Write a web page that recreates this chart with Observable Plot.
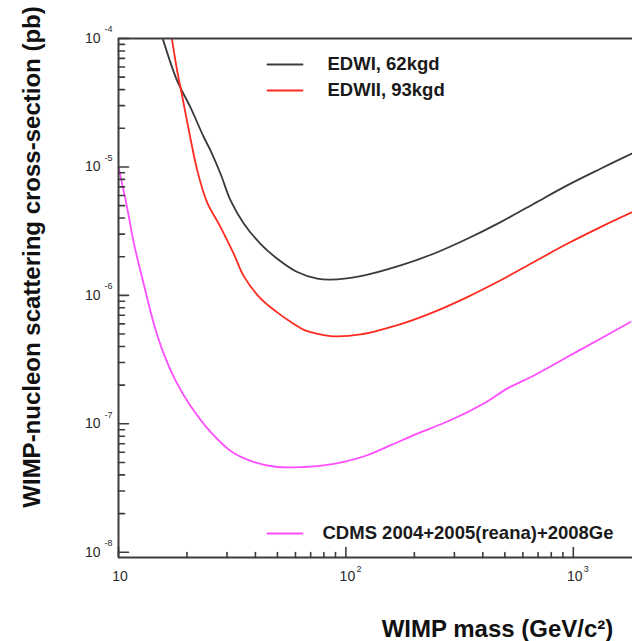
<!DOCTYPE html>
<html><head><meta charset="utf-8">
<script src="https://cdn.jsdelivr.net/npm/d3@7"></script>
<script src="https://cdn.jsdelivr.net/npm/@observablehq/plot@0.6"></script>
<style>html,body{margin:0;padding:0;background:#fff;overflow:hidden}</style>
</head><body><div id="chart"></div>
<script>
// ---- data (WIMP mass in GeV/c^2, cross-section in pb) ----
const massEDWI  = [15.7, 18.1, 20.7, 23.7, 25.4, 28.1, 31.1, 35.6, 42.1, 49.9, 61.1, 74.8, 85.6, 116, 174, 243, 342, 479, 671, 940, 1317, 1821];
const sigmaEDWI = [9.8e-5, 4.7e-5, 2.92e-5, 1.71e-5, 1.34e-5, 8.85e-6, 5.48e-6, 3.61e-6, 2.52e-6, 1.93e-6, 1.52e-6, 1.35e-6, 1.325e-6, 1.41e-6, 1.71e-6, 2.11e-6, 2.76e-6, 3.72e-6, 5.17e-6, 7.18e-6, 9.68e-6, 1.28e-5];

const massEDWII  = [17.2, 18.1, 19.1, 20.4, 22.2, 24.5, 28.1, 32.1, 35.6, 42.1, 49.9, 57.1, 65.3, 69.9, 85.6, 116, 180, 243, 342, 479, 671, 940, 1317, 1821];
const sigmaEDWII = [9.8e-5, 5.64e-5, 3.49e-5, 1.92e-5, 9.39e-6, 5.32e-6, 3.40e-6, 2.11e-6, 1.405e-6, 9.48e-7, 7.37e-7, 6.22e-7, 5.39e-7, 5.18e-7, 4.82e-7, 4.97e-7, 6.09e-7, 7.41e-7, 9.70e-7, 1.31e-6, 1.82e-6, 2.52e-6, 3.40e-6, 4.45e-6];

const massCDMS  = [10, 10.9, 11.7, 12.9, 14.3, 15.8, 17.8, 20.4, 25.4, 31.6, 39.4, 49.9, 65.3, 80.0, 97.9, 124, 157, 206, 288, 404, 512, 671, 940, 1317, 1784];
const sigmaCDMS = [1.0e-5, 4.87e-6, 2.52e-6, 1.23e-6, 6.02e-7, 3.52e-7, 2.18e-7, 1.44e-7, 8.64e-8, 6.03e-8, 5.04e-8, 4.61e-8, 4.61e-8, 4.75e-8, 5.06e-8, 5.69e-8, 6.80e-8, 8.39e-8, 1.065e-7, 1.44e-7, 1.88e-7, 2.38e-7, 3.31e-7, 4.60e-7, 6.20e-7];

const seriesNames  = ["EDWI, 62kgd", "EDWII, 93kgd", "CDMS 2004+2005(reana)+2008Ge"];
const seriesColors = ["#3a3a3a", "#ff2a1f", "#ff4dff"];

const xDomain = [10, 1821];
const yDomain = [9.1e-9, 1e-4];
const xMajor = [10, 100, 1000];
const xMajorExp = ["", "2", "3"];
const yMajor = [1e-8, 1e-7, 1e-6, 1e-5, 1e-4];
const yMajorExp = ["-8", "-7", "-6", "-5", "-4"];
const minorSteps = [2, 3, 4, 5, 6, 7, 8, 9];
const xTitle = "WIMP mass (GeV/c²)";
const yTitle = "WIMP-nucleon scattering cross-section (pb)";

// ---- build ----
const rows = [];
[[massEDWI, sigmaEDWI], [massEDWII, sigmaEDWII], [massCDMS, sigmaCDMS]].forEach(([m, s], k) => {
  m.forEach((v, i) => rows.push({series: seriesNames[k], mass: v, sigma: s[i]}));
});
const xMinor = xMajor.flatMap(p => minorSteps.map(k => k * p)).filter(v => v < xDomain[1]);
const yMinor = yMajor.slice(0, -1).flatMap(p => minorSteps.map(k => k * p));

const tickShape = {draw(ctx, l) { ctx.moveTo(0, 0); ctx.lineTo(0, -l); }};
const hShape = {draw(ctx, l) { ctx.moveTo(0, 0); ctx.lineTo(l, 0); }};
const axisColor = "#3c3c3c";
const labelColor = "#2a2a2a";
const legendPos = [
  {frameAnchor: "top-left", dy: 26, textDx: 209},
  {frameAnchor: "top-left", dy: 52, textDx: 209},
  {frameAnchor: "bottom-left", dy: -24, textDx: 204}
];

const legendMarks = seriesNames.flatMap((name, i) => [
  Plot.vector([name], {frameAnchor: legendPos[i].frameAnchor, dx: 149, dy: legendPos[i].dy, length: 35, shape: hShape, anchor: "start", stroke: seriesColors[i], strokeWidth: 1.8}),
  Plot.text([name], {frameAnchor: legendPos[i].frameAnchor, dx: legendPos[i].textDx, dy: legendPos[i].dy, text: d => d, textAnchor: "start", lineAnchor: "middle", fontSize: 18.5, fontWeight: "bold", fill: "#1a1a1a"})
]);

const chart = Plot.plot({
  width: 632,
  height: 641,
  marginLeft: 118,
  marginRight: 0,
  marginTop: 38,
  marginBottom: 84,
  style: {fontFamily: "'Liberation Sans', Arial, Helvetica, sans-serif", background: "#fff"},
  x: {type: "log", domain: xDomain, axis: null},
  y: {type: "log", domain: yDomain, axis: null},
  color: {domain: seriesNames, range: seriesColors},
  marks: [
    Plot.line(rows, {x: "mass", y: "sigma", z: "series", stroke: "series", strokeWidth: 1.8, curve: "catmull-rom", clip: true}),
    // frame lines
    Plot.ruleX([xDomain[0]], {stroke: axisColor, strokeWidth: 2}),
    Plot.ruleY([yDomain[0], yDomain[1]], {stroke: axisColor, strokeWidth: 2}),
    // inward ticks
    Plot.vector(yMajor, {y: d => d, frameAnchor: "left", length: 10, rotate: 90, shape: tickShape, anchor: "start", stroke: axisColor, strokeWidth: 1.6}),
    Plot.vector(yMinor, {y: d => d, frameAnchor: "left", length: 6, rotate: 90, shape: tickShape, anchor: "start", stroke: axisColor, strokeWidth: 1.6}),
    Plot.vector(xMajor, {x: d => d, frameAnchor: "bottom", length: 10, shape: tickShape, anchor: "start", stroke: axisColor, strokeWidth: 1.6}),
    Plot.vector(xMinor, {x: d => d, frameAnchor: "bottom", length: 5, shape: tickShape, anchor: "start", stroke: axisColor, strokeWidth: 1.6}),
    // tick labels
    Plot.text(yMajor, {y: d => d, frameAnchor: "left", text: () => "10", textAnchor: "end", lineAnchor: "middle", dx: -18, fontSize: 14, fill: labelColor}),
    Plot.text(yMajor, {y: d => d, frameAnchor: "left", text: (d, i) => yMajorExp[i], textAnchor: "start", lineAnchor: "middle", dx: -14, dy: -9, fontSize: 9, fill: labelColor}),
    Plot.text(xMajor, {x: d => d, frameAnchor: "bottom", text: () => "10", textAnchor: "middle", lineAnchor: "middle", dx: 1.5, dy: 19, fontSize: 14, fill: labelColor}),
    Plot.text(xMajor, {x: d => d, frameAnchor: "bottom", text: (d, i) => xMajorExp[i], textAnchor: "start", lineAnchor: "middle", dx: 10.5, dy: 12, fontSize: 9, fill: labelColor}),
    // axis titles
    Plot.text([yTitle], {frameAnchor: "left", text: d => d, rotate: -90, textAnchor: "middle", lineAnchor: "middle", dx: -86, dy: -41, fontSize: 24, fontWeight: "bold", fill: "#111"}),
    Plot.text([xTitle], {frameAnchor: "bottom", text: d => d, textAnchor: "middle", lineAnchor: "middle", dx: 122, dy: 72, fontSize: 24, fontWeight: "bold", fill: "#111"}),
    ...legendMarks
  ]
});
document.getElementById("chart").appendChild(chart);
</script>
</body></html>
